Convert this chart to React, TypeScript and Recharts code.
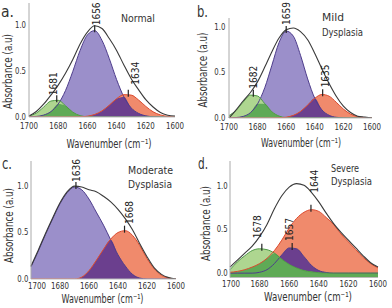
import React from 'react';
import { ComposedChart, Area, Line, XAxis, YAxis, ReferenceDot } from 'recharts';

// ---------- data ----------
const wavenumbers = [1700, 1695, 1690, 1685, 1680, 1675, 1670, 1665, 1660, 1655, 1650, 1645, 1640, 1635, 1630, 1625, 1620, 1615, 1610, 1605, 1600];
const xTicks = [1700, 1680, 1660, 1640, 1620, 1600];
const yTicks = [0, 0.5, 1];

// a. Normal
const normalGreen = [0.011, 0.042, 0.108, 0.175, 0.183, 0.123, 0.053, 0.015, 0.003, 0, 0, 0, 0, 0, 0, 0, 0, 0, 0, 0, 0];
const normalPurple = [0.002, 0.006, 0.021, 0.059, 0.142, 0.29, 0.5, 0.73, 0.9, 0.947, 0.84, 0.64, 0.41, 0.22, 0.1, 0.04, 0.013, 0.003, 0.001, 0, 0];
const normalOrange = [0, 0, 0, 0, 0, 0, 0.001, 0.002, 0.009, 0.028, 0.067, 0.13, 0.2, 0.245, 0.24, 0.187, 0.116, 0.057, 0.023, 0.007, 0.002];
const normalEnvelope = [0.01, 0.06, 0.14, 0.24, 0.35, 0.48, 0.63, 0.8, 0.93, 1.0, 0.97, 0.86, 0.73, 0.57, 0.42, 0.3, 0.19, 0.11, 0.05, 0.02, 0.01];
const normalPeakWn = [1681, 1655, 1632];
const normalPeakAbs = [0.185, 0.95, 0.245];
const normalPeakLabels = ['1681', '1656', '1634'];

// b. Mild Dysplasia
const mildGreen = [0.027, 0.085, 0.177, 0.252, 0.242, 0.158, 0.069, 0.021, 0.004, 0, 0, 0, 0, 0, 0, 0, 0, 0, 0, 0, 0];
const mildPurple = [0.001, 0.005, 0.018, 0.059, 0.156, 0.333, 0.58, 0.83, 0.956, 0.9, 0.69, 0.43, 0.216, 0.089, 0.03, 0.008, 0.002, 0, 0, 0, 0];
const mildOrange = [0, 0, 0, 0, 0, 0, 0, 0.002, 0.009, 0.029, 0.072, 0.142, 0.217, 0.259, 0.24, 0.173, 0.098, 0.043, 0.015, 0.004, 0.001];
const mildEnvelope = [0.0, 0.09, 0.19, 0.28, 0.4, 0.56, 0.73, 0.88, 0.97, 0.99, 0.95, 0.86, 0.71, 0.54, 0.38, 0.24, 0.13, 0.06, 0.02, 0.01, 0.0];
const mildPeakWn = [1683, 1660, 1634.5];
const mildPeakAbs = [0.255, 0.956, 0.26];
const mildPeakLabels = ['1682', '1659', '1635'];

// c. Moderate Dysplasia
const moderatePurple = [0.13, 0.3, 0.48, 0.65, 0.81, 0.93, 0.99, 0.96, 0.86, 0.72, 0.58, 0.42, 0.26, 0.14, 0.05, 0.01, 0, 0, 0, 0, 0];
const moderateOrange = [0, 0, 0, 0, 0, 0, 0, 0.02, 0.09, 0.2, 0.32, 0.43, 0.5, 0.52, 0.47, 0.36, 0.22, 0.11, 0.04, 0.01, 0];
const moderateEnvelope = [0.14, 0.31, 0.49, 0.66, 0.82, 0.94, 1.0, 0.99, 0.96, 0.94, 0.89, 0.83, 0.75, 0.65, 0.53, 0.38, 0.24, 0.12, 0.05, 0.015, 0];
const moderatePeakWn = [1669, 1635.5];
const moderatePeakAbs = [0.99, 0.52];
const moderatePeakLabels = ['1636', '1668'];

// d. Severe Dysplasia
const severeGreen = [0.04, 0.13, 0.2, 0.26, 0.28, 0.27, 0.23, 0.16, 0.1, 0.06, 0.03, 0.015, 0.005, 0, 0, 0, 0, 0, 0, 0, 0];
const severePurple = [0, 0, 0, 0, 0.01, 0.04, 0.11, 0.21, 0.29, 0.28, 0.19, 0.09, 0.03, 0.008, 0, 0, 0, 0, 0, 0, 0];
const severeOrange = [0.01, 0.02, 0.04, 0.07, 0.11, 0.17, 0.26, 0.38, 0.52, 0.63, 0.7, 0.73, 0.71, 0.64, 0.56, 0.45, 0.36, 0.27, 0.18, 0.11, 0.06];
const severeEnvelope = [0.07, 0.15, 0.23, 0.31, 0.42, 0.56, 0.74, 0.89, 0.99, 1.03, 1.01, 0.93, 0.82, 0.69, 0.57, 0.47, 0.38, 0.29, 0.2, 0.12, 0.07];
const severePeakWn = [1678.5, 1658, 1645.3];
const severePeakAbs = [0.28, 0.29, 0.73];
const severePeakLabels = ['1678', '1657', '1644'];

// ---------- styles ----------
const FONT = "'Liberation Sans Narrow','DejaVu Sans Condensed','Roboto Condensed','Liberation Sans',Arial,sans-serif";
const TEXT = '#333';
const TICK_FONT = 9.5;
const TITLE_FONT = 11;
const C = {
  purple: '#9b8fca',
  purpleEdge: '#4e3d8c',
  darkPurple: '#6b3f8e',
  orange: '#f08a6c',
  orangeEdge: '#dc4a2e',
  green: '#aed690',
  greenEdge: '#4f9a46',
  darkGreen: '#5faa56',
  envelope: '#3a3a3a',
};

const panels = [
  {
    id: 'a', left: 0, top: 0, w: 196, h: 154, mt: 3, mr: 21, mb: 17, yw: 29, yDomain: [0, 1.25],
    xTickOff: 12, firstTickDx: 0, yTickGap: 3, base: 0 as any,
    green: normalGreen, purple: normalPurple, orange: normalOrange, envelope: normalEnvelope,
    peakWn: normalPeakWn, peakAbs: normalPeakAbs, peakLabels: normalPeakLabels,
    labelGap: [0, 0, 5], labelDx: [-3.5, 1.5, 6.5],
  },
  {
    id: 'b', left: 196, top: 0, w: 196, h: 154, mt: 18, mr: 20, mb: 16, yw: 33, yDomain: [0, 1.1],
    xTickOff: 12, firstTickDx: 0, yTickGap: 3.7, base: 0 as any,
    green: mildGreen, purple: mildPurple, orange: mildOrange, envelope: mildEnvelope,
    peakWn: mildPeakWn, peakAbs: mildPeakAbs, peakLabels: mildPeakLabels,
    labelGap: [1, 1, 2], labelDx: [0, 0, 2.3],
  },
  {
    id: 'c', left: 0, top: 154, w: 196, h: 154, mt: 7, mr: 20, mb: 9, yw: 31, yDomain: [0, 1.27],
    xTickOff: 9.8, firstTickDx: 6, yTickGap: 2.7, base: 0 as any,
    green: null as number[] | null, purple: moderatePurple, orange: moderateOrange, envelope: moderateEnvelope,
    peakWn: moderatePeakWn, peakAbs: moderatePeakAbs, peakLabels: moderatePeakLabels,
    labelGap: [0, 1.7], labelDx: [0, 5],
  },
  {
    id: 'd', left: 196, top: 154, w: 196, h: 154, mt: 7, mr: 14, mb: 10.5, yw: 34, yDomain: [-0.05, 1.29],
    xTickOff: 9, firstTickDx: 1, yTickGap: 2.3, base: 'dataMin' as any,
    green: severeGreen, purple: severePurple, orange: severeOrange, envelope: severeEnvelope,
    peakWn: severePeakWn, peakAbs: severePeakAbs, peakLabels: severePeakLabels,
    labelGap: [5.6, 2, 12], labelDx: [-4.3, -3.3, 3.3],
  },
];

const titles = [
  { t: 'a.', x: 1, y: 17, size: 15, len: 13 },
  { t: 'Normal', x: 121, y: 21.7, size: TITLE_FONT, len: 34 },
  { t: 'b.', x: 197, y: 17.3, size: 15, len: 11 },
  { t: 'Mild', x: 322, y: 20.7, size: TITLE_FONT, len: 22 },
  { t: 'Dysplasia', x: 322, y: 36, size: TITLE_FONT, len: 41 },
  { t: 'c.', x: 2, y: 169, size: 15, len: 10 },
  { t: 'Moderate', x: 128, y: 174, size: TITLE_FONT, len: 45 },
  { t: 'Dysplasia', x: 128, y: 187.5, size: TITLE_FONT, len: 44 },
  { t: 'd.', x: 198, y: 169, size: 15, len: 10 },
  { t: 'Severe', x: 331, y: 171.8, size: TITLE_FONT, len: 28 },
  { t: 'Dysplasia', x: 331, y: 185.2, size: TITLE_FONT, len: 41 },
];

const X_TITLE = 'Wavenumber (cm\u207B\u00B9)';
const Y_TITLE = 'Absorbance (a.u)';
const xTitles = [
  { cx: 109, y: 147.5, len: 85 },
  { cx: 301, y: 147, len: 80 },
  { cx: 102.5, y: 303, len: 82 },
  { cx: 308, y: 301, len: 88 },
];
const yTitles = [
  { cx: 8.3, cy: 71.5 },
  { cx: 203.3, cy: 70 },
  { cx: 9.3, cy: 225.5 },
  { cx: 206, cy: 223.5 },
];

// ---------- components ----------
function XTick(props: any) {
  const { x, y, payload, off, firstDx } = props;
  const dx = payload.value === xTicks[0] ? firstDx : 0;
  return (
    <text x={x + dx} y={y + off} textAnchor="middle" fontSize={TICK_FONT} fill={TEXT} fontFamily={FONT}
      textLength={18} lengthAdjust="spacingAndGlyphs">
      {payload.value}
    </text>
  );
}

function YTick(props: any) {
  const { x, y, payload, gap } = props;
  return (
    <text x={x - gap} y={y - 0.8} dy="0.36em" textAnchor="end" fontSize={TICK_FONT} fill={TEXT} fontFamily={FONT}
      textLength={11} lengthAdjust="spacingAndGlyphs">
      {Number(payload.value).toFixed(1)}
    </text>
  );
}

function peakShape(label: string, gap: number, dx: number) {
  return (p: any) => {
    const { cx, cy } = p;
    const lx = cx + dx;
    const ly = cy - 5 - gap;
    return (
      <g>
        <line x1={cx} x2={cx} y1={cy + 2} y2={cy - 5} stroke="#222" strokeWidth={1.2} />
        <text x={lx} y={ly} transform={`rotate(-90 ${lx} ${ly})`} dy="0.36em" textAnchor="start"
          fontSize={11} fill="#222" fontFamily={FONT} textLength={23} lengthAdjust="spacingAndGlyphs">
          {label}
        </text>
      </g>
    );
  };
}

function Panel({ cfg }: { cfg: any }) {
  const rows = wavenumbers.map((wn, i) => {
    const p = cfg.purple[i];
    const o = cfg.orange[i];
    const row: any = { wn, purple: p, orange: o, env: cfg.envelope[i], purpleOrange: Math.min(p, o) };
    if (cfg.green) {
      const g = cfg.green[i];
      row.green = g;
      row.greenOver = Math.min(g, Math.max(p, o));
    }
    return row;
  });
  const areaCommon = { type: 'monotone' as const, stroke: 'none', fillOpacity: 1, isAnimationActive: false, baseValue: cfg.base, dot: false, activeDot: false };
  const lineCommon = { type: 'monotone' as const, dot: false, activeDot: false, isAnimationActive: false, strokeWidth: 1 };
  return (
    <div style={{ position: 'absolute', left: cfg.left, top: cfg.top, width: cfg.w, height: cfg.h }}>
      <ComposedChart width={cfg.w} height={cfg.h} data={rows}
        margin={{ top: cfg.mt, right: cfg.mr, bottom: cfg.mb, left: 0 }}>
        <XAxis type="number" dataKey="wn" domain={[1600, 1700]} reversed ticks={xTicks} interval={0}
          tickLine={false} tickSize={0} tickMargin={0} height={20} axisLine={{ stroke: '#bbb' }}
          tick={<XTick off={cfg.xTickOff} firstDx={cfg.firstTickDx} />} />
        <YAxis type="number" domain={cfg.yDomain} ticks={yTicks} interval={0} width={cfg.yw}
          tickLine={false} tickSize={0} tickMargin={0} axisLine={{ stroke: '#aaa' }} allowDataOverflow
          tick={<YTick gap={cfg.yTickGap} />} />
        <Area {...areaCommon} dataKey="purple" fill={C.purple} />
        <Area {...areaCommon} dataKey="orange" fill={C.orange} />
        <Area {...areaCommon} dataKey="purpleOrange" fill={C.darkPurple} />
        {cfg.green && <Area {...areaCommon} dataKey="green" fill={C.green} />}
        {cfg.green && <Area {...areaCommon} dataKey="greenOver" fill={C.darkGreen} />}
        <Line {...lineCommon} dataKey="purple" stroke={C.purpleEdge} />
        {cfg.green && <Line {...lineCommon} dataKey="green" stroke={C.greenEdge} />}
        <Line {...lineCommon} dataKey="orange" stroke={C.orangeEdge} />
        <Line {...lineCommon} dataKey="env" stroke={C.envelope} strokeWidth={1.1} />
        {cfg.peakWn.map((wn: number, i: number) => (
          <ReferenceDot key={i} x={wn} y={cfg.peakAbs[i]} r={0} ifOverflow="visible"
            shape={peakShape(cfg.peakLabels[i], cfg.labelGap[i], cfg.labelDx[i])} />
        ))}
      </ComposedChart>
    </div>
  );
}

export default function App() {
  return (
    <div style={{ position: 'absolute', left: 0, top: 0, width: 392, height: 308, background: '#fff', overflow: 'hidden' }}>
      {panels.map((cfg) => <Panel key={cfg.id} cfg={cfg} />)}
      <svg width={392} height={308} style={{ position: 'absolute', left: 0, top: 0, pointerEvents: 'none' }}>
        {titles.map((t, i) => (
          <text key={i} x={t.x} y={t.y} fontSize={t.size} fill={TEXT} fontFamily={FONT}
            textLength={t.len} lengthAdjust="spacingAndGlyphs">{t.t}</text>
        ))}
        {xTitles.map((t, i) => (
          <text key={'x' + i} x={t.cx} y={t.y} textAnchor="middle" fontSize={13} fill={TEXT} fontFamily={FONT}
            textLength={t.len} lengthAdjust="spacingAndGlyphs">{X_TITLE}</text>
        ))}
        {yTitles.map((t, i) => (
          <text key={'y' + i} x={t.cx} y={t.cy} transform={`rotate(-90 ${t.cx} ${t.cy})`} dy="0.36em"
            textAnchor="middle" fontSize={11.5} fill={TEXT} fontFamily={FONT}
            textLength={75} lengthAdjust="spacingAndGlyphs">{Y_TITLE}</text>
        ))}
      </svg>
    </div>
  );
}
